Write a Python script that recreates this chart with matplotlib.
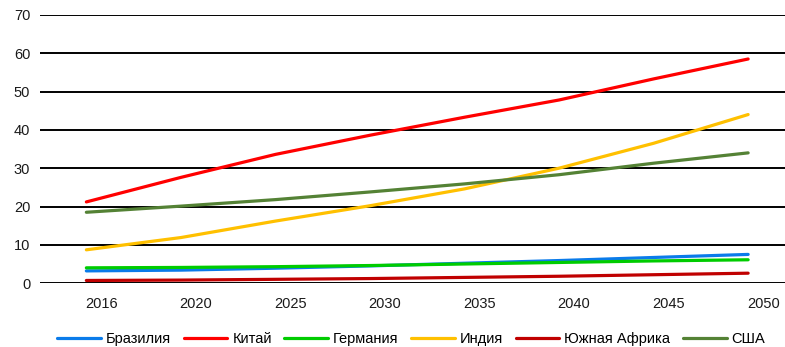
import matplotlib.pyplot as plt
import matplotlib.transforms as mtransforms

plt.rcParams['font.family'] = ['Liberation Sans', 'DejaVu Sans']

years = ['2016', '2020', '2025', '2030', '2035', '2040', '2045', '2050']
brazil = [3.2, 3.4, 3.9, 4.5, 5.2, 5.9, 6.7, 7.5]
china = [21.2, 27.6, 33.6, 38.6, 43.3, 47.8, 53.3, 58.5]
germany = [4.0, 4.1, 4.3, 4.6, 5.0, 5.4, 5.8, 6.1]
india = [8.7, 11.9, 16.2, 20.2, 24.6, 30.0, 36.5, 44.0]
south_africa = [0.7, 0.8, 1.0, 1.2, 1.5, 1.8, 2.2, 2.6]
usa = [18.5, 20.1, 21.8, 23.8, 25.9, 28.3, 31.3, 34.0]

series = [
    ('Бразилия', brazil, '#0A7BEA'),
    ('Китай', china, '#FF0000'),
    ('Германия', germany, '#00CC00'),
    ('Индия', india, '#FFC000'),
    ('Южная Африка', south_africa, '#C00000'),
    ('США', usa, '#548235'),
]

fig = plt.figure(figsize=(7.85, 3.47), dpi=100)
ax = fig.add_axes([0.051, 0.184, 0.949, 0.773])

x = list(range(len(years)))
for name, vals, col in series:
    ax.plot(x, vals, color=col, linewidth=2.3, label=name, solid_capstyle='round')

ax.set_ylim(0, 70)
ax.set_xlim(-0.49, 7.39)
ax.set_yticks(range(0, 71, 10))
ax.yaxis.grid(True, color='black', linewidth=1.4)
ax.set_axisbelow(True)
for s in ax.spines.values():
    s.set_visible(False)
ax.tick_params(axis='both', length=0, labelsize=10.5, colors='#1a1a1a')
ax.tick_params(axis='y', pad=7)
ax.tick_params(axis='x', pad=10)
ax.set_xticks(x)
ax.set_xticklabels(years)
# category labels sit slightly right of the data points
offset = mtransforms.ScaledTranslation(15 / 100, 0, fig.dpi_scale_trans)
for lbl in ax.get_xticklabels():
    lbl.set_transform(lbl.get_transform() + offset)

fig.legend(loc='center', bbox_to_anchor=(0.524, 0.024), ncol=6, frameon=False,
           fontsize=10.5, handlelength=3.0, columnspacing=0.85, handletextpad=0.35)

fig.savefig('out.png', dpi=100)
